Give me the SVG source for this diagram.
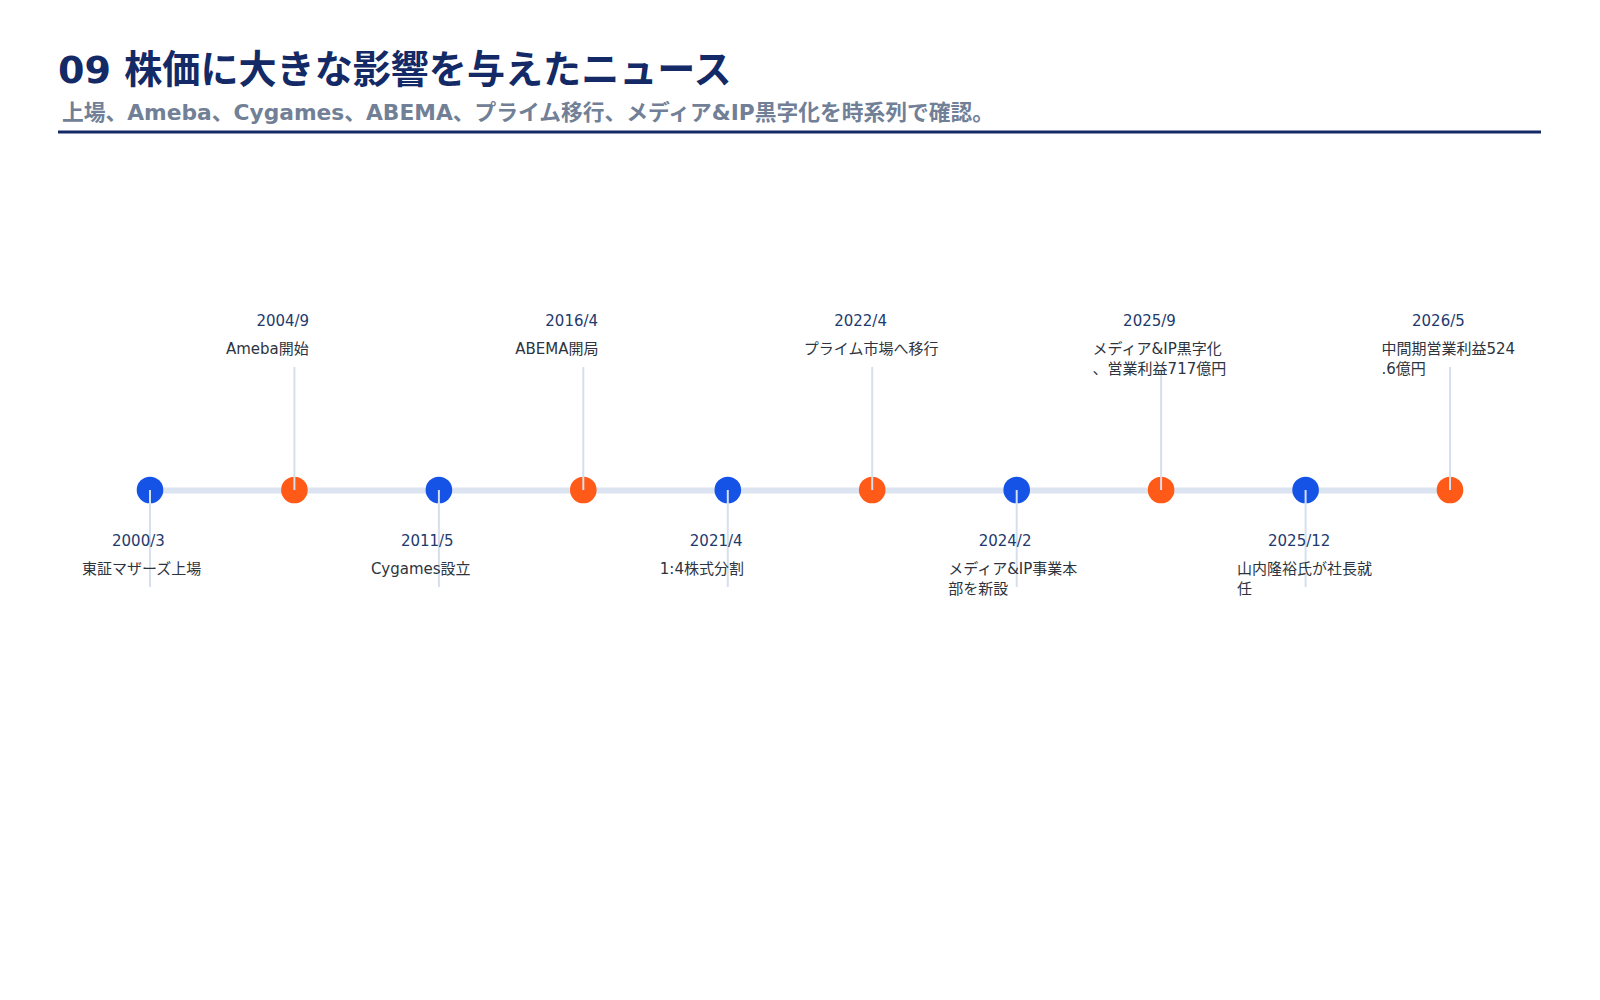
<svg xmlns="http://www.w3.org/2000/svg" width="1600" height="1000" viewBox="0 0 1600 1000">
<style>
.t{font-family:"DejaVu Sans","Noto Sans CJK JP",sans-serif}
.title{font-size:38.1px;font-weight:bold;fill:#132a66}
.sub{font-size:21.75px;font-weight:bold;fill:#718096}
.date{font-size:15px;fill:#1e3a6e}
.desc{font-size:15px;fill:#2d3440}
.stem{stroke:#d5e0ee;stroke-width:2}
.blue{fill:#1553e6}
.orange{fill:#ff5a17}
</style>
<rect width="1600" height="1000" fill="#ffffff"/>
<g id="header">
<text class="t title" x="58" y="83">09 株価に大きな影響を与えたニュース</text>
<text class="t sub" x="62" y="120">上場、Ameba、Cygames、ABEMA、プライム移行、メディア&amp;IP黒字化を時系列で確認。</text>
<rect x="58" y="130.5" width="1483" height="3" fill="#132a66"/>
</g>
<g id="connectors">
<line x1="150" y1="490.5" x2="1450" y2="490.5" stroke="#dbe4f0" stroke-width="6"/>
</g>
<g id="e1"><circle class="blue" cx="150" cy="490" r="13.3"/><line class="stem" x1="150" y1="490" x2="150" y2="587"/><text class="t date" x="112" y="546">2000/3</text><text class="t desc" x="82" y="574">東証マザーズ上場</text></g>
<g id="e2"><circle class="orange" cx="294.4" cy="490" r="13.3"/><line class="stem" x1="294.4" y1="367" x2="294.4" y2="490"/><text class="t date" x="256.4" y="326">2004/9</text><text class="t desc" x="226" y="354">Ameba開始</text></g>
<g id="e3"><circle class="blue" cx="438.9" cy="490" r="13.3"/><line class="stem" x1="438.9" y1="490" x2="438.9" y2="587"/><text class="t date" x="400.9" y="546">2011/5</text><text class="t desc" x="370.9" y="574">Cygames設立</text></g>
<g id="e4"><circle class="orange" cx="583.3" cy="490" r="13.3"/><line class="stem" x1="583.3" y1="367" x2="583.3" y2="490"/><text class="t date" x="545.3" y="326">2016/4</text><text class="t desc" x="515.3" y="354">ABEMA開局</text></g>
<g id="e5"><circle class="blue" cx="727.8" cy="490" r="13.3"/><line class="stem" x1="727.8" y1="490" x2="727.8" y2="587"/><text class="t date" x="689.8" y="546">2021/4</text><text class="t desc" x="659.8" y="574">1:4株式分割</text></g>
<g id="e6"><circle class="orange" cx="872.2" cy="490" r="13.3"/><line class="stem" x1="872.2" y1="367" x2="872.2" y2="490"/><text class="t date" x="834.2" y="326">2022/4</text><text class="t desc" x="803.7" y="354">プライム市場へ移行</text></g>
<g id="e7"><circle class="blue" cx="1016.7" cy="490" r="13.3"/><line class="stem" x1="1016.7" y1="490" x2="1016.7" y2="587"/><text class="t date" x="978.7" y="546">2024/2</text><text class="t desc" x="948.2" y="574">メディア&amp;IP事業本</text><text class="t desc" x="948.2" y="594">部を新設</text></g>
<g id="e8"><circle class="orange" cx="1161.1" cy="490" r="13.3"/><line class="stem" x1="1161.1" y1="367" x2="1161.1" y2="490"/><text class="t date" x="1123.1" y="326">2025/9</text><text class="t desc" x="1092.6" y="354">メディア&amp;IP黒字化</text><text class="t desc" x="1092.6" y="374">、営業利益717億円</text></g>
<g id="e9"><circle class="blue" cx="1305.6" cy="490" r="13.3"/><line class="stem" x1="1305.6" y1="490" x2="1305.6" y2="587"/><text class="t date" x="1268" y="546">2025/12</text><text class="t desc" x="1237.1" y="574">山内隆裕氏が社長就</text><text class="t desc" x="1237.1" y="594">任</text></g>
<g id="e10"><circle class="orange" cx="1450" cy="490" r="13.3"/><line class="stem" x1="1450" y1="367" x2="1450" y2="490"/><text class="t date" x="1412" y="326">2026/5</text><text class="t desc" x="1381.5" y="354">中間期営業利益524</text><text class="t desc" x="1381.5" y="374">.6億円</text></g>
</svg>
